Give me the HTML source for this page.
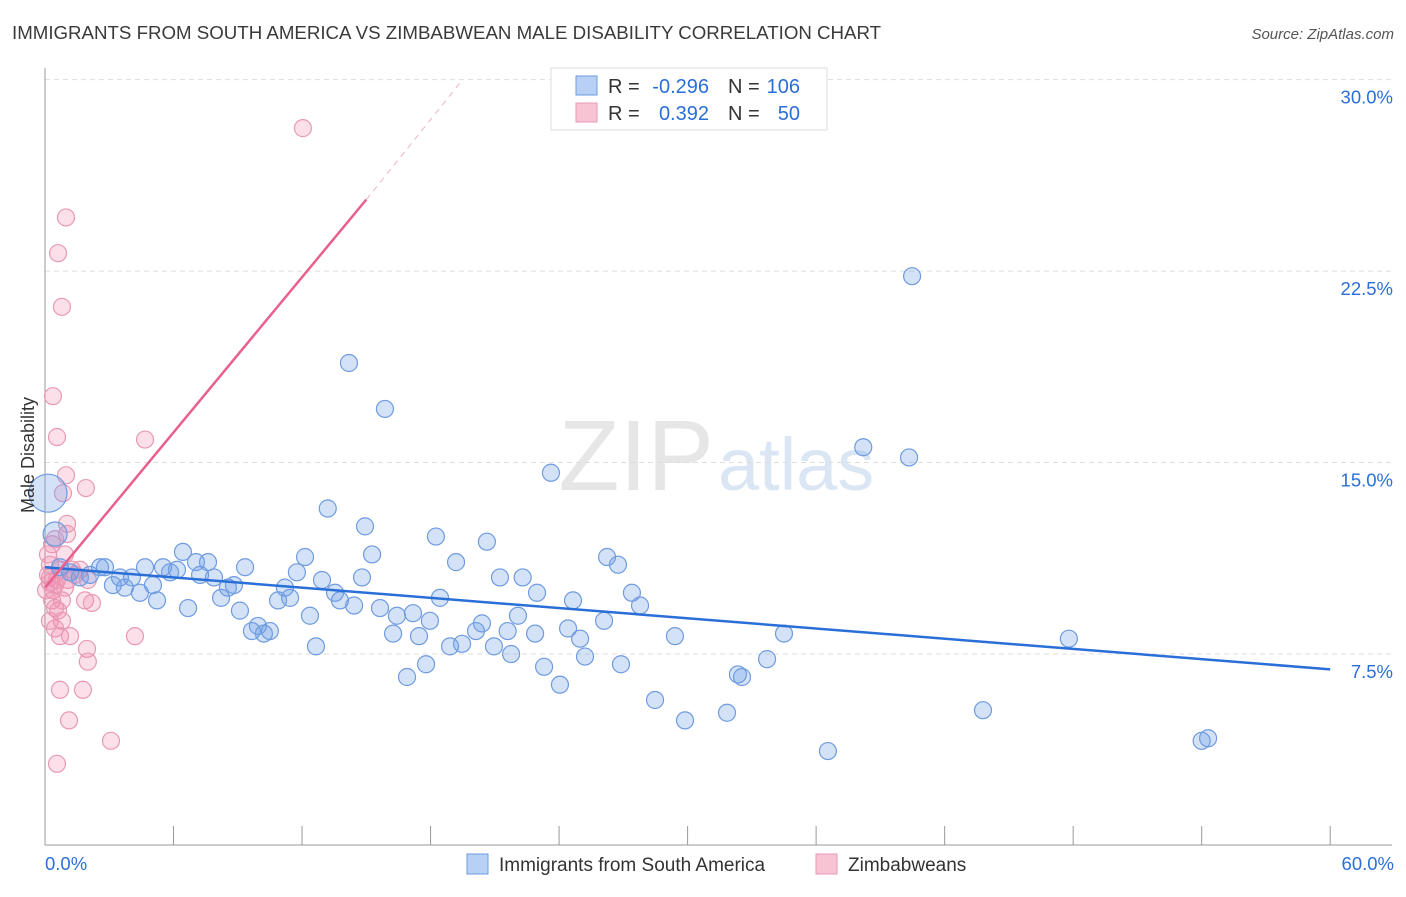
<!DOCTYPE html>
<html><head><meta charset="utf-8"><style>
body{margin:0;background:#fff;font-family:"Liberation Sans",sans-serif;}
svg text{font-family:"Liberation Sans",sans-serif;}
</style></head><body>
<svg id="chart" width="1406" height="892" xmlns="http://www.w3.org/2000/svg">
<text x="12" y="39" font-size="18.7" fill="#3a3a3a">IMMIGRANTS FROM SOUTH AMERICA VS ZIMBABWEAN MALE DISABILITY CORRELATION CHART</text>
<text x="1394" y="39" font-size="15" fill="#555" text-anchor="end" font-style="italic">Source: ZipAtlas.com</text>
<text x="714" y="490" font-size="100" fill="#e6e6e6" text-anchor="end" font-family="Liberation Serif">ZIP</text>
<text x="718" y="490" font-size="74" fill="#dbe6f5">atlas</text>
<g id="grid"></g>
<g id="axes"></g>
<g id="pink"></g>
<g id="blue"></g>
<g id="lines"></g>
<text transform="translate(34,455) rotate(-90)" font-size="18" fill="#333" text-anchor="middle">Male Disability</text>
<g>
<rect x="551" y="68" width="276" height="62" fill="#fff" stroke="#ddd"/>
<rect x="576" y="76" width="21" height="19" fill="#b7d0f3" stroke="#6f9be0"/>
<rect x="576" y="103" width="21" height="19" fill="#f8c3d3" stroke="#e89ab5"/>
<text x="608" y="93" font-size="20" fill="#333">R =</text>
<text x="709" y="93" font-size="20" fill="#2a6fd8" text-anchor="end">-0.296</text>
<text x="728" y="93" font-size="20" fill="#333">N =</text>
<text x="800" y="93" font-size="20" fill="#2a6fd8" text-anchor="end">106</text>
<text x="608" y="120" font-size="20" fill="#333">R =</text>
<text x="709" y="120" font-size="20" fill="#2a6fd8" text-anchor="end">0.392</text>
<text x="728" y="120" font-size="20" fill="#333">N =</text>
<text x="800" y="120" font-size="20" fill="#2a6fd8" text-anchor="end">50</text>
</g>
<g>
<rect x="467" y="854" width="21" height="20" fill="#b7d0f3" stroke="#6f9be0"/>
<text x="499" y="871" font-size="19" fill="#333">Immigrants from South America</text>
<rect x="816" y="854" width="21" height="20" fill="#f8c3d3" stroke="#e89ab5"/>
<text x="848" y="871" font-size="19" fill="#333">Zimbabweans</text>
</g>
</svg>
<script>
const yTicks=[7.5,15,22.5,30];
const yTickLabels=["7.5%","15.0%","22.5%","30.0%"];
const xTicks=[0,6,12,18,24,30,36,42,48,54,60];
const blueX=[0.14,0.47,0.7,1.17,1.63,2.1,2.57,2.8,3.17,3.5,3.73,4.06,4.43,4.67,5.04,5.23,5.51,5.84,6.16,6.44,6.68,7.05,7.24,7.61,7.89,8.22,8.54,8.82,9.1,9.34,9.66,9.94,10.22,10.5,10.88,11.2,11.44,11.76,12.14,12.37,12.65,12.93,13.2,13.54,13.77,14.19,14.43,14.8,14.94,15.27,15.64,15.87,16.25,16.43,16.9,17.18,17.46,17.79,17.97,18.25,18.44,18.91,19.19,19.47,20.12,20.4,20.63,20.96,21.24,21.6,21.76,22.08,22.3,22.97,22.88,23.3,23.62,24.04,24.42,24.65,24.98,25.21,26.1,26.24,26.75,26.89,27.4,27.78,28.48,29.41,29.88,31.84,32.35,32.54,33.71,34.5,36.55,38.2,40.34,40.48,43.79,47.8,54.0,54.3];
const blueY=[13.8,12.2,10.9,10.7,10.5,10.6,10.9,10.9,10.2,10.5,10.1,10.5,9.9,10.9,10.2,9.6,10.9,10.7,10.8,11.5,9.3,11.1,10.6,11.1,10.5,9.7,10.1,10.2,9.2,10.9,8.4,8.6,8.3,8.4,9.6,10.1,9.7,10.7,11.3,9.0,7.8,10.4,13.2,9.9,9.6,18.9,9.4,10.5,12.5,11.4,9.3,17.1,8.3,9.0,6.6,9.1,8.2,7.1,8.8,12.1,9.7,7.8,11.1,7.9,8.4,8.7,11.9,7.8,10.5,8.4,7.5,9.0,10.5,9.9,8.3,7.0,14.6,6.3,8.5,9.6,8.1,7.4,8.8,11.3,11.0,7.1,9.9,9.4,5.7,8.2,4.9,5.2,6.7,6.6,7.3,8.3,3.7,15.6,15.2,22.3,5.3,8.1,4.1,4.2];
const blueR=[19,12];
const pinkX=[0.37,0.61,0.79,0.98,0.56,0.98,0.84,1.91,4.67,12.04,1.03,1.03,0.47,0.33,0.23,0.14,0.23,0.37,0.56,0.7,1.07,1.4,2.0,0.33,0.47,0.61,0.79,0.47,0.7,1.17,1.87,2.19,1.96,2.0,4.2,0.7,1.77,1.12,3.08,0.56,0.23,0.05,0.93,0.14,0.47,0.93,1.26,1.63,0.23,0.79];
const pinkY=[17.6,23.2,21.1,24.6,16.0,14.5,13.8,14.0,15.9,28.1,12.6,12.2,12.0,11.8,11.0,10.6,10.3,10.0,10.4,10.8,10.4,10.6,10.4,9.6,9.3,9.2,8.8,8.5,8.2,8.2,9.6,9.5,7.7,7.2,8.2,6.1,6.1,4.9,4.1,3.2,10.5,10.0,11.4,11.4,10.2,10.1,10.8,10.8,8.8,9.6];
const blueTrend=[[0,10.9],[60,6.9]];
const pinkTrend=[[0,10.1],[15,25.3]];
const pinkTrendDash=[[15,25.3],[19.5,30]];
const X=v=>45+v*21.42, Y=v=>845.5-v*25.53;
const NS="http://www.w3.org/2000/svg";
function mk(p,t,a){const e=document.createElementNS(NS,t);for(const k in a)e.setAttribute(k,a[k]);document.getElementById(p).appendChild(e);return e;}
yTicks.forEach((t,i)=>{
 const l=mk('grid','line',{x1:45,x2:1392,y1:Y(t),y2:Y(t),stroke:'#ddd','stroke-dasharray':'5,4'});
 
 
 const tx=mk('grid','text',{x:1393,y:Y(t)+24,'font-size':18.5,fill:'#2a6fd8','text-anchor':'end'});
 tx.textContent=yTickLabels[i];
 
 
});
const ax=mk('axes','line',{x1:45,x2:45,y1:68,y2:845,stroke:'#999'});


const bx=mk('axes','line',{x1:45,x2:1392,y1:845,y2:845,stroke:'#999'});


xTicks.forEach(t=>{const l=mk('axes','line',{x1:X(t),x2:X(t),y1:826,y2:845,stroke:'#999'});
 
 });
[[0,'0.0%','start',45],[60,'60.0%','end',1394]].forEach(a=>{const t=mk('axes','text',{x:a[3],y:870,'font-size':18.5,fill:'#2a6fd8','text-anchor':a[2]});t.textContent=a[1];
 
 });
pinkX.forEach((v,i)=>{const c=mk('pink','circle',{cx:X(v),cy:Y(pinkY[i]),r:8.5,fill:'rgba(240,140,175,0.28)',stroke:'#e89ab5','stroke-width':1.2});
 
 });
blueX.forEach((v,i)=>{const c=mk('blue','circle',{cx:X(v),cy:Y(blueY[i]),r:blueR[i]||8.5,fill:'rgba(110,160,230,0.3)',stroke:'#6f9be0','stroke-width':1.2});
 
 });
const b=mk('lines','line',{x1:X(blueTrend[0][0]),y1:Y(blueTrend[0][1]),x2:X(blueTrend[1][0]),y2:Y(blueTrend[1][1]),stroke:'#2a6fd8','stroke-width':2.5});


const p=mk('lines','line',{x1:X(pinkTrend[0][0]),y1:Y(pinkTrend[0][1]),x2:X(pinkTrend[1][0]),y2:Y(pinkTrend[1][1]),stroke:'#e8608e','stroke-width':2.5});


const pd=mk('lines','line',{x1:X(pinkTrendDash[0][0]),y1:Y(pinkTrendDash[0][1]),x2:X(pinkTrendDash[1][0]),y2:Y(pinkTrendDash[1][1]),stroke:'#f0b0c5','stroke-width':1,'stroke-dasharray':'6,5'});


</script>
</body></html>
